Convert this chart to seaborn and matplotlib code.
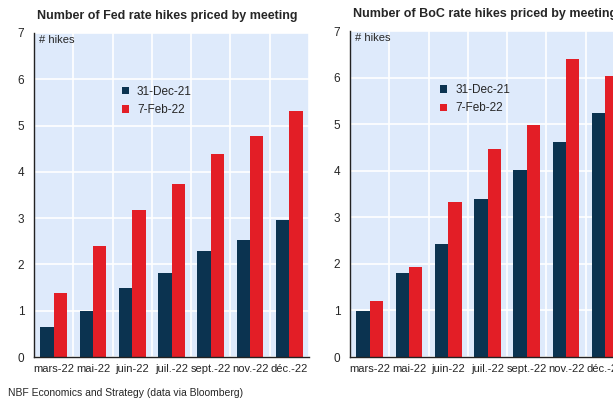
import matplotlib
matplotlib.use("Agg")
import matplotlib.pyplot as plt
import seaborn as sns
import pandas as pd
from matplotlib.patches import Patch

meetings = ["mars-22", "mai-22", "juin-22", "juil.-22", "sept.-22", "nov.-22", "déc.-22"]
series_names = ["31-Dec-21", "7-Feb-22"]
fed_dec = [0.64, 0.99, 1.49, 1.81, 2.28, 2.52, 2.95]
fed_feb = [1.38, 2.39, 3.17, 3.73, 4.38, 4.77, 5.31]
boc_dec = [0.99, 1.80, 2.42, 3.40, 4.01, 4.61, 5.24]
boc_feb = [1.21, 1.93, 3.32, 4.46, 4.98, 6.39, 6.03]
yticks = [0, 1, 2, 3, 4, 5, 6, 7]

NAVY = "#0B3350"
RED = "#E31E26"
BG = "#DEEAFB"

sns.set_theme(style="white")
plt.rcParams["font.family"] = ["Liberation Sans", "DejaVu Sans"]

fig = plt.figure(figsize=(6.13, 4.0), dpi=100)
ax1 = fig.add_axes([34 / 613, 1 - 357 / 400, 275 / 613, 324 / 400])
ax2 = fig.add_axes([350 / 613, 1 - 357 / 400, 275 / 613, 326 / 400])


def make_df(a, b):
    return pd.DataFrame({
        "meeting": meetings * 2,
        "series": [series_names[0]] * len(meetings) + [series_names[1]] * len(meetings),
        "hikes": list(a) + list(b),
    })


def draw(ax, a, b, title, legx):
    df = make_df(a, b)
    sns.barplot(data=df, x="meeting", y="hikes", hue="series", order=meetings,
                hue_order=series_names, palette=[NAVY, RED], width=0.68,
                linewidth=0, saturation=1, ax=ax, legend=False)
    ax.set_facecolor(BG)
    ax.set_xlim(-0.5, len(meetings) - 0.5)
    ax.set_ylim(0, 7)
    ax.set_yticks(yticks)
    ax.set_yticklabels([str(t) for t in yticks], fontsize=8.5)
    ax.set_xticks([i - 0.5 for i in range(len(meetings) + 1)])
    ax.set_xticklabels([])
    ax.set_xticks(range(len(meetings)), minor=True)
    ax.set_xticklabels(meetings, minor=True, fontsize=8)
    ax.tick_params(axis="x", which="minor", length=0, pad=5)
    ax.tick_params(axis="x", which="major", length=4, width=1, color="#333333", direction="out")
    ax.tick_params(axis="y", length=4, width=1, color="#333333", direction="out", pad=3)
    ax.grid(True, which="major", color="white", linewidth=1.2)
    ax.set_axisbelow(True)
    for s in ["top", "right"]:
        ax.spines[s].set_visible(False)
    for s in ["left", "bottom"]:
        ax.spines[s].set_color("#222222")
        ax.spines[s].set_linewidth(1.0)
    ax.set_xlabel("")
    ax.set_ylabel("")
    ax.text(0.018, 0.995, "# hikes", transform=ax.transAxes, ha="left", va="top", fontsize=8)
    ax.set_title(title, fontsize=9, fontweight="bold", pad=10, loc="left", x=0.01)
    handles = [Patch(facecolor=NAVY, edgecolor="none"), Patch(facecolor=RED, edgecolor="none")]
    ax.legend(handles, series_names, loc="upper left", bbox_to_anchor=(legx, 0.87),
              frameon=False, fontsize=8.5, handlelength=0.6, handleheight=0.6,
              handletextpad=0.7, labelspacing=0.55)


draw(ax1, fed_dec, fed_feb, "Number of Fed rate hikes priced by meeting", 0.28)
draw(ax2, boc_dec, boc_feb, "Number of BoC rate hikes priced by meeting", 0.29)

fig.text(8 / 613, 1 - 393 / 400, "NBF Economics and Strategy (data via Bloomberg)",
         fontsize=7.5, ha="left", va="center")

fig.savefig("out.png", dpi=100)
